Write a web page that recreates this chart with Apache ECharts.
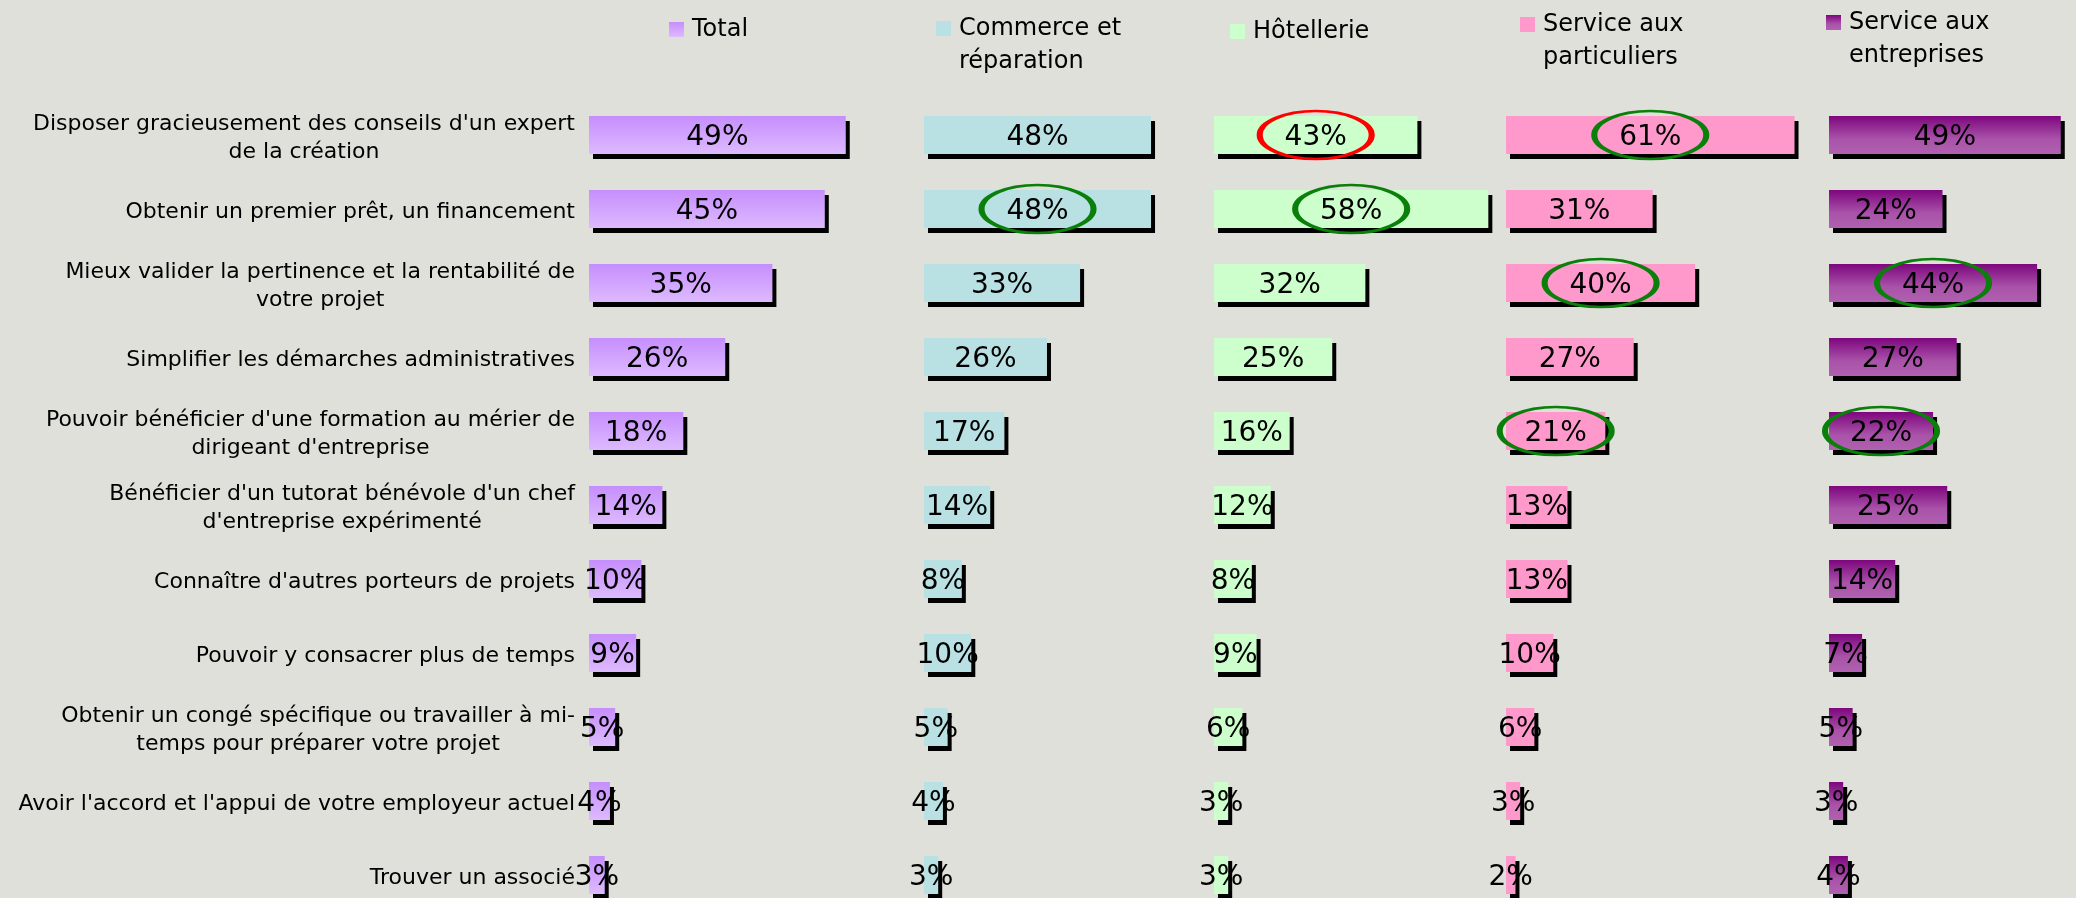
<!DOCTYPE html>
<html>
<head>
<meta charset="utf-8">
<title>Attentes des créateurs par secteur</title>
<script src="https://cdn.jsdelivr.net/npm/echarts@6/dist/echarts.min.js"></script>
<style>
  html, body { margin: 0; padding: 0; background: #e0e0da; }
  #main { width: 2076px; height: 898px; }
</style>
</head>
<body>
<div id="main"></div>
<script>
// données (en %)
const categories = [
    "Disposer gracieusement des conseils d'un expert\nde la création",
    "Obtenir un premier prêt, un financement",
    "Mieux valider la pertinence et la rentabilité de\nvotre projet",
    "Simplifier les démarches administratives",
    "Pouvoir bénéficier d'une formation au mérier de\ndirigeant d'entreprise",
    "Bénéficier d'un tutorat bénévole d'un chef\nd'entreprise expérimenté",
    "Connaître d'autres porteurs de projets",
    "Pouvoir y consacrer plus de temps",
    "Obtenir un congé spécifique ou travailler à mi-\ntemps pour préparer votre projet",
    "Avoir l'accord et l'appui de votre employeur actuel",
    "Trouver un associé"
];
const total = [49, 45, 35, 26, 18, 14, 10, 9, 5, 4, 3];
const commerce = [48, 48, 33, 26, 17, 14, 8, 10, 5, 4, 3];
const hotellerie = [43, 58, 32, 25, 16, 12, 8, 9, 6, 3, 3];
const particuliers = [61, 31, 40, 27, 21, 13, 13, 10, 6, 3, 2];
const entreprises = [49, 24, 44, 27, 22, 25, 14, 7, 5, 3, 4];

const seriesNames = ['Total', 'Commerce et réparation', 'Hôtellerie', 'Service aux particuliers', 'Service aux entreprises'];
const legendLabels = ['Total', 'Commerce et\nréparation', 'Hôtellerie', 'Service aux\nparticuliers', 'Service aux\nentreprises'];

// valeurs entourées (indices des catégories, par panneau)
const greenMarks = [[], [1], [1], [0, 2, 4], [2, 4]];
const redMarks = [[], [], [0], [], []];

const panelData = [total, commerce, hotellerie, particuliers, entreprises];

// mise en page
const panelLeft = [589, 924, 1214, 1506, 1829];
const pxPerPct = [5.24, 4.73, 4.73, 4.73, 4.73];
const legendPos = [
    { left: 669, top: 13 },
    { left: 936, top: -21 },
    { left: 1230, top: 15 },
    { left: 1520, top: -25 },
    { left: 1826, top: -27 }
];
const gridTop = 98;
const rowHeight = 74;
const FONT = 'DejaVu Sans';

const panelColors = [
    new echarts.graphic.LinearGradient(0, 0, 0, 1, [
        { offset: 0, color: '#c68efd' },
        { offset: 1, color: '#ddbaff' }
    ]),
    '#b9e0e2',
    '#ccffcc',
    '#ff99cc',
    new echarts.graphic.LinearGradient(0, 0, 0, 1, [
        { offset: 0, color: '#7e067e' },
        { offset: 0.6, color: '#a952a9' },
        { offset: 1, color: '#b061b0' }
    ])
];

const chart = echarts.init(document.getElementById('main'));

const grids = [], xAxes = [], yAxes = [], series = [], legends = [];

panelData.forEach((values, i) => {
    grids.push({
        left: panelLeft[i],
        top: gridTop,
        width: 100 * pxPerPct[i],
        height: rowHeight * categories.length,
        outerBoundsMode: 'none'
    });
    xAxes.push({
        gridIndex: i,
        type: 'value',
        min: 0,
        max: 100,
        show: false
    });
    yAxes.push({
        gridIndex: i,
        type: 'category',
        data: categories,
        inverse: true,
        show: i === 0,
        axisLine: { show: false },
        axisTick: { show: false },
        splitLine: { show: false },
        axisLabel: {
            interval: 0,
            margin: 14,
            padding: [6, 0, 0, 0],
            // lignes centrées entre elles, bloc aligné à droite
            formatter: v => v.split('\n').map(s => '{c|' + s + '}').join('\n'),
            rich: {
                c: {
                    align: 'center',
                    fontSize: 22,
                    lineHeight: 28,
                    fontFamily: FONT,
                    color: '#000'
                }
            }
        }
    });

    const marks = greenMarks[i].map(k => ({
        coord: [values[k] / 2, categories[k]],
        itemStyle: { borderColor: '#0a7f0a' }
    })).concat(redMarks[i].map(k => ({
        coord: [values[k] / 2, categories[k]],
        itemStyle: { borderColor: '#ff0000' }
    })));

    series.push({
        name: seriesNames[i],
        type: 'bar',
        xAxisIndex: i,
        yAxisIndex: i,
        data: values,
        barWidth: 38,
        emphasis: { disabled: true },
        itemStyle: {
            color: panelColors[i],
            shadowColor: '#000',
            shadowBlur: 0,
            shadowOffsetX: 4,
            shadowOffsetY: 5
        },
        label: {
            show: true,
            position: 'inside',
            offset: [0, 3],
            formatter: '{c}%',
            color: '#000',
            fontSize: 28,
            fontFamily: FONT,
            textBorderWidth: 0
        },
        markPoint: {
            silent: true,
            symbol: 'circle',
            symbolSize: [112, 48],
            label: { show: false },
            itemStyle: {
                color: 'rgba(0,0,0,0)',
                borderWidth: 4,
                shadowColor: 'rgba(0,0,0,0)'
            },
            data: marks
        }
    });

    // texte sur deux lignes : l'icône se cale sur la première ligne
    const twoLines = legendLabels[i].indexOf('\n') >= 0;
    legends.push({
        data: [seriesNames[i]],
        left: legendPos[i].left,
        top: legendPos[i].top,
        padding: 0,
        selectedMode: false,
        icon: 'rect',
        itemWidth: 15,
        itemHeight: 15,
        itemStyle: {
            shadowColor: 'rgba(0,0,0,0)',
            shadowOffsetX: 0,
            shadowOffsetY: 0
        },
        formatter: () => (twoLines ? '\n' : '') + legendLabels[i],
        textStyle: {
            color: '#000',
            fontSize: 24,
            lineHeight: 33,
            fontFamily: FONT,
            padding: [0, 0, 0, 3]
        }
    });
});

chart.setOption({
    backgroundColor: '#e0e0da',
    animation: false,
    legend: legends,
    grid: grids,
    xAxis: xAxes,
    yAxis: yAxes,
    series: series
});
</script>
</body>
</html>
